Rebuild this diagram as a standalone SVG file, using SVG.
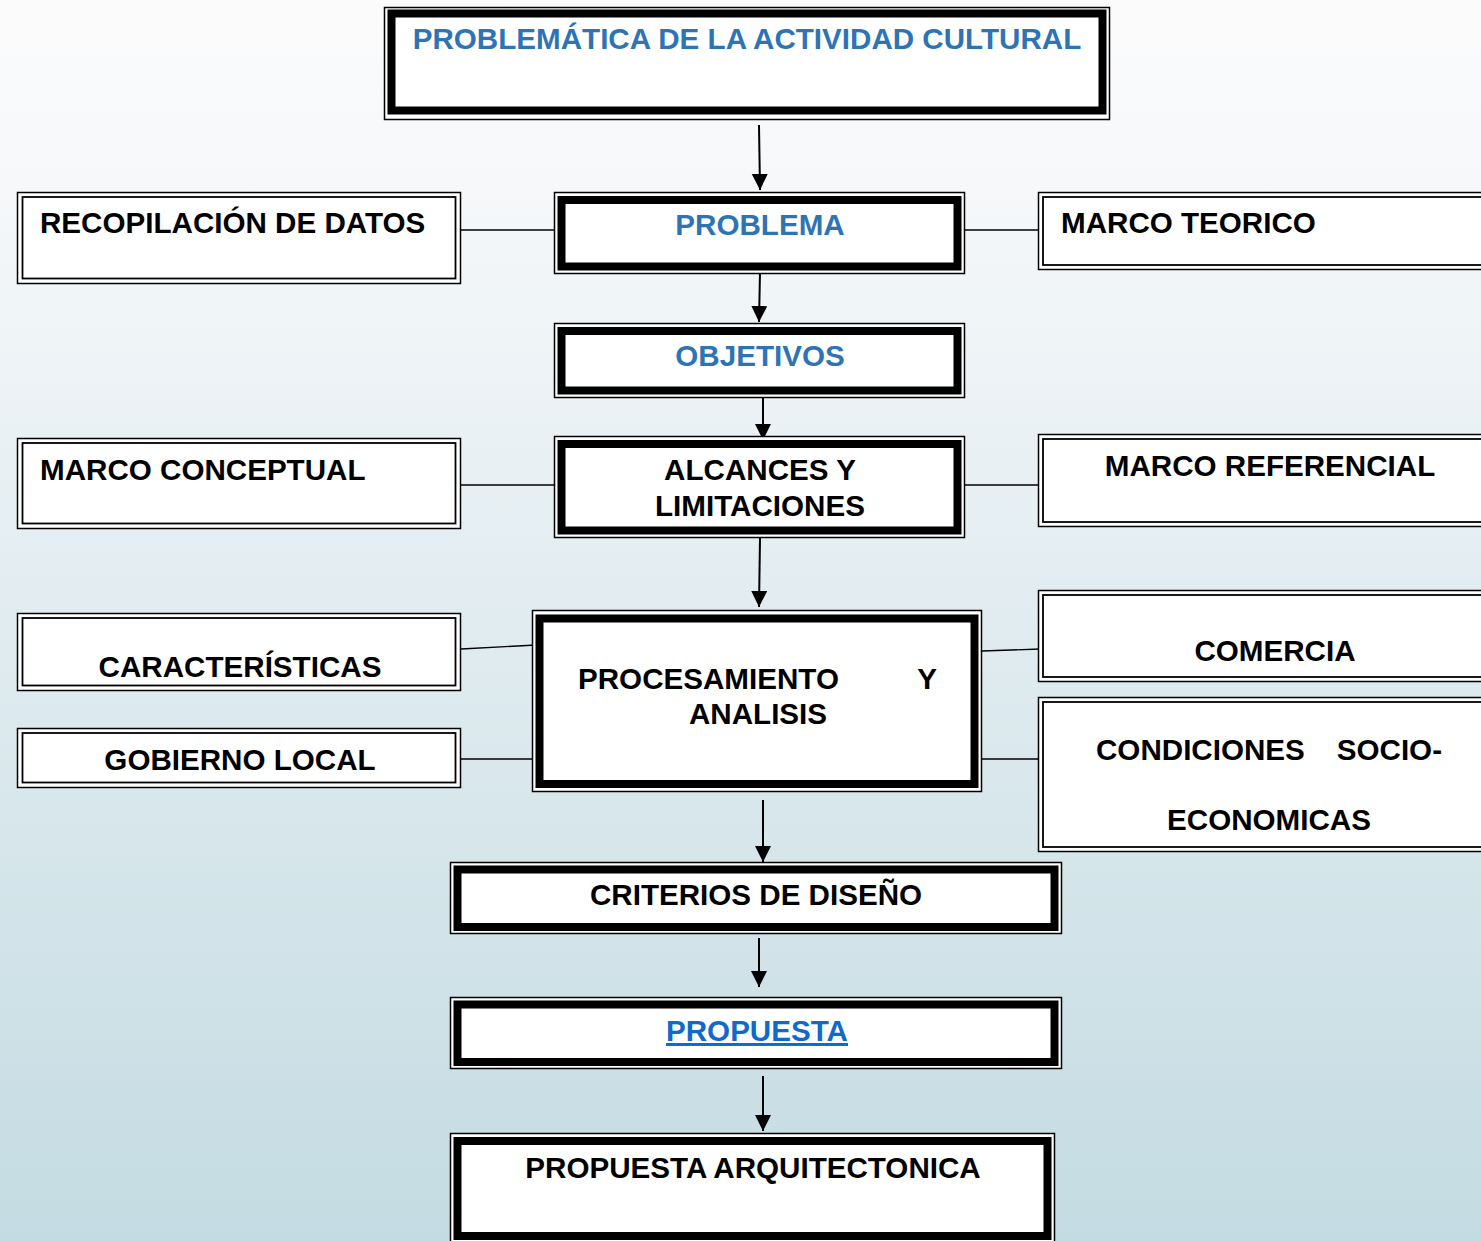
<svg xmlns="http://www.w3.org/2000/svg" width="1481" height="1241" viewBox="0 0 1481 1241">
  <defs>
    <linearGradient id="bg" x1="0" y1="0" x2="0" y2="1">
      <stop offset="0" stop-color="#fbfbfc"/>
      <stop offset="0.15" stop-color="#f6f8fa"/>
      <stop offset="1" stop-color="#c3dbe2"/>
    </linearGradient>
    <marker id="arrow" markerUnits="userSpaceOnUse" markerWidth="18" markerHeight="18" refX="16" refY="8" orient="auto">
      <path d="M0,0 L16,8 L0,16 Z" fill="#000"/>
    </marker>
    <style>
      text { font-family: "Liberation Sans", Arial, sans-serif; font-weight: bold; font-size: 29.6px; fill: #000; }
      .blue { fill: #2e74b5; }
      .link { fill: #0f6acb; }
      .mid { text-anchor: middle; }
      .outer { fill: #fff; stroke: #000; stroke-width: 1.5; }
      .thick { fill: #fff; stroke: #000; stroke-width: 8; }
      .inner { fill: none; stroke: #000; stroke-width: 1.8; }
      .conn line { stroke: #000; stroke-width: 1.4; }
      .conn .arr { stroke-width: 2; marker-end: url(#arrow); }
    </style>
  </defs>

  <rect width="1481" height="1241" fill="url(#bg)"/>

  <!-- connectors -->
  <g id="connectors" class="conn">
    <line class="arr" x1="759" y1="125" x2="760" y2="190"/>
    <line class="arr" x1="760" y1="272" x2="759" y2="322"/>
    <line class="arr" x1="763" y1="398" x2="763" y2="440"/>
    <line class="arr" x1="760" y1="538" x2="759" y2="607"/>
    <line class="arr" x1="763" y1="800" x2="763" y2="862"/>
    <line class="arr" x1="759" y1="938" x2="759" y2="987"/>
    <line class="arr" x1="763" y1="1076" x2="763" y2="1131"/>
    <line x1="461" y1="230" x2="555" y2="230"/>
    <line x1="965" y1="230" x2="1038" y2="230"/>
    <line x1="461" y1="485" x2="555" y2="485"/>
    <line x1="965" y1="485" x2="1038" y2="485"/>
    <line x1="461" y1="649" x2="536" y2="645"/>
    <line x1="461" y1="759" x2="536" y2="759"/>
    <line x1="982" y1="651" x2="1040" y2="649"/>
    <line x1="982" y1="759" x2="1040" y2="759"/>
  </g>

  <!-- main column -->
  <g id="n-problematica">
    <rect class="outer" x="384.5" y="7.5" width="725" height="112"/>
    <rect class="thick" x="391.5" y="13.5" width="711" height="97"/>
    <text class="blue mid" x="747" y="49">PROBLEMÁTICA DE LA ACTIVIDAD CULTURAL</text>
  </g>

  <g id="n-problema">
    <rect class="outer" x="554.5" y="192.5" width="410" height="81"/>
    <rect class="thick" x="561.5" y="200" width="396" height="66.5"/>
    <text class="blue mid" x="760" y="235">PROBLEMA</text>
  </g>

  <g id="n-objetivos">
    <rect class="outer" x="554.5" y="323.5" width="410" height="74"/>
    <rect class="thick" x="561.5" y="331" width="396" height="59.5"/>
    <text class="blue mid" x="760" y="366">OBJETIVOS</text>
  </g>

  <g id="n-alcances">
    <rect class="outer" x="554.5" y="436.5" width="410" height="101"/>
    <rect class="thick" x="561.5" y="444" width="396" height="86.5"/>
    <text class="mid" x="760" y="480">ALCANCES Y</text>
    <text class="mid" x="760" y="516">LIMITACIONES</text>
  </g>

  <g id="n-procesamiento">
    <rect class="outer" x="532.5" y="610.5" width="449" height="181"/>
    <rect class="thick" x="539.5" y="618.5" width="435" height="165.5"/>
    <text x="578" y="689">PROCESAMIENTO</text>
    <text x="937" y="689" text-anchor="end">Y</text>
    <text class="mid" x="758" y="724">ANALISIS</text>
  </g>

  <g id="n-criterios">
    <rect class="outer" x="450.5" y="862.5" width="611" height="71"/>
    <rect class="thick" x="457.5" y="869.5" width="597" height="57.5"/>
    <text class="mid" x="756" y="905">CRITERIOS DE DISEÑO</text>
  </g>

  <g id="n-propuesta">
    <rect class="outer" x="450.5" y="997.5" width="611" height="71"/>
    <rect class="thick" x="457.5" y="1004.5" width="597" height="57.5"/>
    <text class="link mid" x="757" y="1041" text-decoration="underline">PROPUESTA</text>
  </g>

  <g id="n-propuesta-arq">
    <rect class="outer" x="450.5" y="1133.5" width="604" height="110"/>
    <rect class="thick" x="457.5" y="1141" width="590" height="95"/>
    <text class="mid" x="753" y="1178">PROPUESTA ARQUITECTONICA</text>
  </g>

  <!-- left column -->
  <g id="n-recopilacion">
    <rect class="outer" x="17.5" y="192.5" width="443" height="91"/>
    <rect class="inner" x="22.5" y="197" width="433" height="81.5"/>
    <text x="40" y="233">RECOPILACIÓN DE DATOS</text>
  </g>

  <g id="n-marco-conceptual">
    <rect class="outer" x="17.5" y="438.5" width="443" height="90"/>
    <rect class="inner" x="22.5" y="443" width="433" height="80.5"/>
    <text x="40" y="480">MARCO CONCEPTUAL</text>
  </g>

  <g id="n-caracteristicas">
    <rect class="outer" x="17.5" y="613.5" width="443" height="77"/>
    <rect class="inner" x="22.5" y="618" width="433" height="67.5"/>
    <text class="mid" x="240" y="677">CARACTERÍSTICAS</text>
  </g>

  <g id="n-gobierno">
    <rect class="outer" x="17.5" y="728.5" width="443" height="59"/>
    <rect class="inner" x="22.5" y="733" width="433" height="49.5"/>
    <text class="mid" x="240" y="770">GOBIERNO LOCAL</text>
  </g>

  <!-- right column -->
  <g id="n-marco-teorico">
    <rect class="outer" x="1038.5" y="192.5" width="500" height="77"/>
    <rect class="inner" x="1043" y="197" width="490" height="68"/>
    <text x="1061" y="233">MARCO TEORICO</text>
  </g>

  <g id="n-marco-referencial">
    <rect class="outer" x="1038.5" y="434.5" width="500" height="92"/>
    <rect class="inner" x="1043" y="439" width="490" height="83"/>
    <text class="mid" x="1270" y="476">MARCO REFERENCIAL</text>
  </g>

  <g id="n-comercia">
    <rect class="outer" x="1038.5" y="590.5" width="500" height="91"/>
    <rect class="inner" x="1043" y="595" width="490" height="82"/>
    <text class="mid" x="1275" y="661">COMERCIA</text>
  </g>

  <g id="n-condiciones">
    <rect class="outer" x="1038.5" y="697.5" width="500" height="154"/>
    <rect class="inner" x="1043" y="702" width="490" height="145"/>
    <text x="1096" y="760">CONDICIONES</text>
    <text x="1442" y="760" text-anchor="end">SOCIO-</text>
    <text class="mid" x="1269" y="830">ECONOMICAS</text>
  </g>
</svg>
